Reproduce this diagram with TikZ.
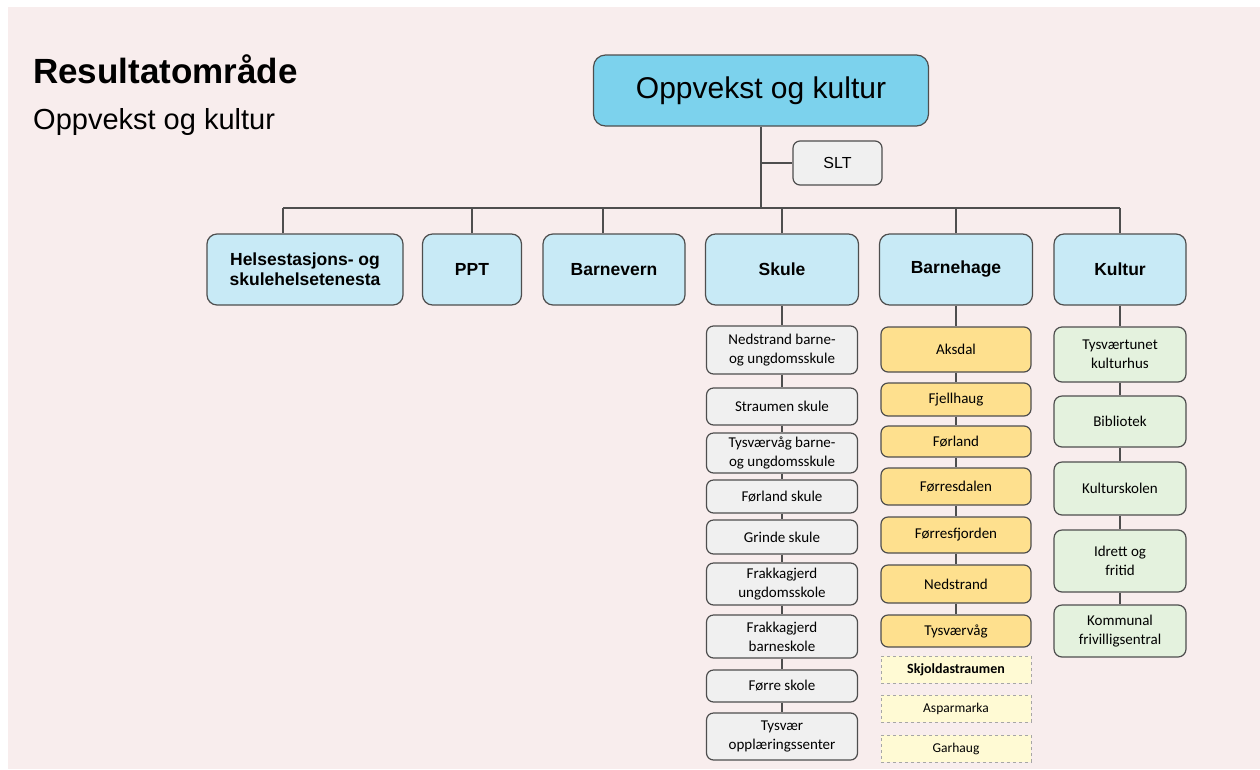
\documentclass[tikz,border=0pt]{standalone}
\usepackage{fontspec}
\setmainfont{Liberation Sans}
\newfontfamily\calfont{Carlito}
\usetikzlibrary{positioning}
\definecolor{pagebg}{RGB}{248,237,237}
\definecolor{topblue}{RGB}{124,210,237}
\definecolor{rowblue}{RGB}{200,234,246}
\definecolor{greyfill}{RGB}{240,240,240}
\definecolor{goldfill}{RGB}{254,224,142}
\definecolor{paleyellow}{RGB}{255,250,212}
\definecolor{palegreen}{RGB}{228,242,222}
\definecolor{edgegray}{RGB}{78,78,78}

\begin{document}
\begin{tikzpicture}[x=1pt, y=-1pt,
    box/.style={rectangle, draw=edgegray, line width=1.2pt, inner sep=0pt, align=center},
    topbox/.style={box, fill=topblue, rounded corners=12pt, minimum width=335pt, minimum height=71pt, font=\fontsize{30}{34}\selectfont},
    sltbox/.style={box, fill=greyfill, rounded corners=7pt, minimum width=89pt, minimum height=44pt, font=\fontsize{16}{18}\selectfont},
    unit/.style={box, fill=rowblue, rounded corners=10pt, minimum height=71pt, font=\fontsize{17.5}{20}\bfseries},
    skole/.style={box, fill=greyfill, rounded corners=7pt, minimum width=151pt, font=\calfont\fontsize{15}{19}\selectfont},
    hage/.style={box, fill=goldfill, rounded corners=7pt, minimum width=150pt, font=\calfont\fontsize{15}{19}\selectfont},
    hageny/.style={box, draw=black!35, dashed, line width=0.8pt, fill=paleyellow, minimum width=150pt, minimum height=27pt, font=\calfont\fontsize{13.5}{15}\selectfont},
    kultur/.style={box, fill=palegreen, rounded corners=8pt, minimum width=132pt, font=\calfont\fontsize{15}{19}\selectfont},
    link/.style={draw=edgegray, line width=1.2pt}]

    % bakgrunn
    \fill[white] (0,0) rectangle (1260,769);
    \fill[pagebg] (8,7) rectangle (1260,769);

    % tittel
    \node[anchor=base west, inner sep=0pt, font=\fontsize{35}{40}\bfseries] (title) at (33,83) {Resultatområde};
    \node[anchor=base west, inner sep=0pt, font=\fontsize{29}{32}\selectfont] (subtitle) at (33,129) {Oppvekst og kultur};

    % topp
    \node[topbox] (top) at (761,90.5) {Oppvekst og kultur};
    \node[sltbox] (slt) at (837.5,163) {SLT};
    \coordinate (busL) at (283,208);
    \coordinate (busR) at (1120,208);

    % einingar
    \node[unit, minimum width=196pt] (helse) at (305,269.5) {Helsestasjons- og\\skulehelsetenesta};
    \node[unit, minimum width=99pt] (ppt) at (472,269.5) {PPT};
    \node[unit, minimum width=142pt] (barnevern) at (614,269.5) {Barnevern};
    \node[unit, minimum width=153pt] (skule) at (782,269.5) {Skule};
    \node[unit, minimum width=153pt] (barnehage) at (956,269.5) {Barnehage};
    \node[unit, minimum width=132pt] (kulturen) at (1120,269.5) {Kultur};

    % skular
    \node[skole, minimum height=48pt] (s1) at (782,350) {Nedstrand barne-\\og ungdomsskule};
    \node[skole, minimum height=37pt] (s2) at (782,406.5) {Straumen skule};
    \node[skole, minimum height=40pt] (s3) at (782,453) {Tysværvåg barne-\\og ungdomsskule};
    \node[skole, minimum height=33pt] (s4) at (782,496.5) {Førland skule};
    \node[skole, minimum height=34pt] (s5) at (782,537) {Grinde skule};
    \node[skole, minimum height=42pt] (s6) at (782,584) {Frakkagjerd\\ungdomsskole};
    \node[skole, minimum height=43pt] (s7) at (782,636.5) {Frakkagjerd\\barneskole};
    \node[skole, minimum height=32pt] (s8) at (782,686) {Førre skole};
    \node[skole, minimum height=47pt] (s9) at (782,736.5) {Tysvær\\opplæringssenter};

    % barnehagar
    \node[hage, minimum height=45pt] (b1) at (956,349.5) {Aksdal};
    \node[hage, minimum height=33pt] (b2) at (956,399.5) {Fjellhaug};
    \node[hage, minimum height=31pt] (b3) at (956,441.5) {Førland};
    \node[hage, minimum height=37pt] (b4) at (956,486.5) {Førresdalen};
    \node[hage, minimum height=36pt] (b5) at (956,535) {Førresfjorden};
    \node[hage, minimum height=38pt] (b6) at (956,584) {Nedstrand};
    \node[hage, minimum height=32pt] (b7) at (956,631) {Tysværvåg};
    \node[hageny, font=\calfont\fontsize{14}{16}\bfseries] (b8) at (956,669.5) {Skjoldastraumen};
    \node[hageny] (b9) at (956,708.5) {Asparmarka};
    \node[hageny] (b10) at (956,748.5) {Garhaug};

    % kultur
    \node[kultur, minimum height=55pt] (k1) at (1120,354.5) {Tysværtunet\\kulturhus};
    \node[kultur, minimum height=51pt] (k2) at (1120,421.5) {Bibliotek};
    \node[kultur, minimum height=53pt] (k3) at (1120,488.5) {Kulturskolen};
    \node[kultur, minimum height=62pt] (k4) at (1120,561) {Idrett og\\fritid};
    \node[kultur, minimum height=52pt] (k5) at (1120,631) {Kommunal\\frivilligsentral};

    % linjer
    \draw[link] (top.south) -- (top.south |- busL);
    \draw[link] (top.south |- slt.west) -- (slt.west);
    \draw[link] (busL) -- (busR);
    \draw[link] ([xshift=-22pt]helse.north) -- ([xshift=-22pt]helse.north |- busL);
    \draw[link] (ppt.north) -- (ppt.north |- busL);
    \draw[link] ([xshift=-11pt]barnevern.north) -- ([xshift=-11pt]barnevern.north |- busL);
    \draw[link] (skule.north) -- (skule.north |- busL);
    \draw[link] (barnehage.north) -- (barnehage.north |- busL);
    \draw[link] (kulturen.north) -- (kulturen.north |- busL);

    \draw[link] (skule) -- (s1);
    \draw[link] (s1) -- (s2);
    \draw[link] (s2) -- (s3);
    \draw[link] (s3) -- (s4);
    \draw[link] (s4) -- (s5);
    \draw[link] (s5) -- (s6);
    \draw[link] (s6) -- (s7);
    \draw[link] (s7) -- (s8);
    \draw[link] (s8) -- (s9);

    \draw[link] (barnehage) -- (b1);
    \draw[link] (b1) -- (b2);
    \draw[link] (b2) -- (b3);
    \draw[link] (b3) -- (b4);
    \draw[link] (b4) -- (b5);
    \draw[link] (b5) -- (b6);
    \draw[link] (b6) -- (b7);

    \draw[link] (kulturen) -- (k1);
    \draw[link] (k1) -- (k2);
    \draw[link] (k2) -- (k3);
    \draw[link] (k3) -- (k4);
    \draw[link] (k4) -- (k5);
\end{tikzpicture}
\end{document}
